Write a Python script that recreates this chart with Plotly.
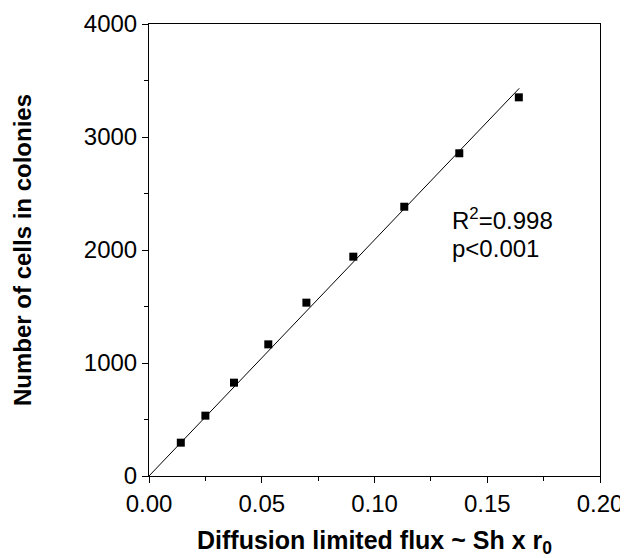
import plotly.graph_objects as go

flux = [0.0141, 0.0250, 0.0377, 0.0529, 0.0698, 0.0906, 0.1132, 0.1376, 0.1640]
cells = [295, 534, 826, 1165, 1534, 1941, 2383, 2856, 3351]
fit_x = [0.0, 0.1642]
fit_y = [0, 3431]

x_ticks = [0, 0.05, 0.10, 0.15, 0.20]
x_ticklabels = ["0.00", "0.05", "0.10", "0.15", "0.20"]
y_ticks = [0, 1000, 2000, 3000, 4000]

FONT = "Liberation Sans, Arial, sans-serif"

fig = go.Figure()
fig.add_trace(go.Scatter(x=fit_x, y=fit_y, mode="lines",
                         line=dict(color="black", width=1), showlegend=False))
fig.add_trace(go.Scatter(x=flux, y=cells, mode="markers",
                         marker=dict(symbol="square", size=8, color="black"),
                         showlegend=False))

fig.add_annotation(x=0.1335, y=2275, xref="x", yref="y", xanchor="left", yanchor="middle",
                   text="R<sup>2</sup>=0.998", showarrow=False,
                   font=dict(family=FONT, size=24, color="black"))
fig.add_annotation(x=0.1335, y=2010, xref="x", yref="y", xanchor="left", yanchor="middle",
                   text="p<0.001", showarrow=False,
                   font=dict(family=FONT, size=24, color="black"))

fig.update_xaxes(range=[0, 0.20], tickvals=x_ticks, ticktext=x_ticklabels,
                 showline=True, linecolor="black", linewidth=1, mirror=True,
                 ticks="outside", ticklen=6, tickcolor="black",
                 minor=dict(tickvals=[0.025, 0.075, 0.125, 0.175], ticks="outside", ticklen=4, tickcolor="black"),
                 showgrid=False, zeroline=False, automargin=False,
                 tickfont=dict(family=FONT, size=24, color="black"),
                 title=dict(text="<b>Diffusion limited flux ~ Sh x r<sub>0</sub></b>",
                            font=dict(family=FONT, size=25, color="black"), standoff=22))
fig.update_yaxes(range=[0, 4000], tickvals=y_ticks,
                 showline=True, linecolor="black", linewidth=1, mirror=True,
                 ticks="outside", ticklen=6, tickcolor="black",
                 minor=dict(tickvals=[500, 1500, 2500, 3500], ticks="outside", ticklen=4, tickcolor="black"),
                 showgrid=False, zeroline=False, automargin=False,
                 tickfont=dict(family=FONT, size=24, color="black"),
                 title=dict(text="<b>Number of cells in colonies</b>",
                            font=dict(family=FONT, size=24, color="black"), standoff=45))

fig.update_layout(width=620, height=550, margin=dict(l=141, r=28, t=16, b=82),
                  paper_bgcolor="white", plot_bgcolor="white")

fig.write_html("out.html")
